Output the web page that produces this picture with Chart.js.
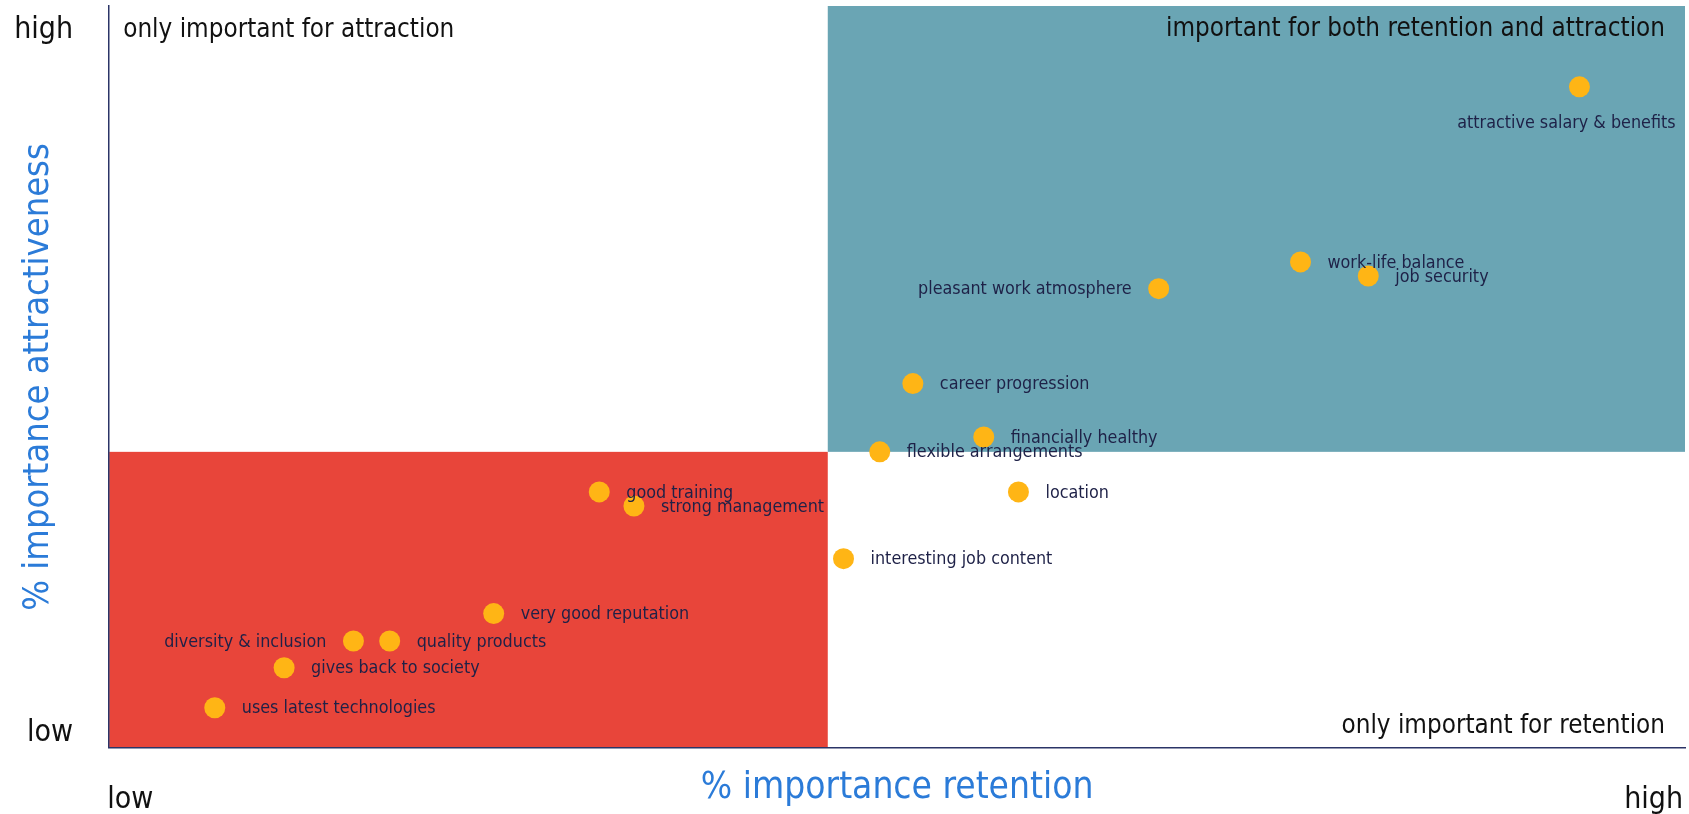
<!DOCTYPE html>
<html lang="en">
<head>
    <meta charset="UTF-8">
    <title>Retention vs Attraction</title>
    <script src="https://cdn.jsdelivr.net/npm/chart.js"></script>
    <style>
        body {
            margin: 0;
            background: #ffffff;
        }
        .chart-container {
            width: 1689px;
            height: 814px;
            position: relative;
        }
    </style>
</head>
<body>

    <div class="chart-container">
        <canvas id="matrixChart"></canvas>
    </div>

    <script>
        const FONT = "'DejaVu Sans Condensed', 'DejaVu Sans', sans-serif";

        // Employer factors, scored on retention (x) and attraction (y), 0-100
        const factors = [
            "attractive salary & benefits",
            "work-life balance",
            "job security",
            "pleasant work atmosphere",
            "career progression",
            "financially healthy",
            "flexible arrangements",
            "location",
            "interesting job content",
            "good training",
            "strong management",
            "very good reputation",
            "diversity & inclusion",
            "quality products",
            "gives back to society",
            "uses latest technologies"
        ];
        const retention  = [93.3, 75.6, 79.9, 66.6, 51.0, 55.5, 48.9, 57.7, 46.6, 31.1, 33.3, 24.4, 15.5, 17.8, 11.1, 6.7];
        const attraction = [89.1, 65.5, 63.6, 61.9, 49.1, 41.9, 39.9, 34.5, 25.5, 34.5, 32.6, 18.1, 14.4, 14.4, 10.8, 5.4];

        // where the quadrants split
        const retentionSplit = 45.6;
        const attractionSplit = 39.9;

        const quadrantNames = [
            "only important for attraction",
            "important for both retention and attraction",
            "only important for retention"
        ];
        const axisEnds = ["low", "high"];

        // labels that sit left of / below their dot
        const leftLabels = ["pleasant work atmosphere", "diversity & inclusion"];
        const belowLabels = ["attractive salary & benefits"];

        const points = factors.map((name, i) => ({ x: retention[i], y: attraction[i], label: name }));

        // coloured quadrant blocks behind everything
        const quadrantFill = {
            id: "quadrantFill",
            beforeDraw(chart) {
                const { ctx, scales: { x, y } } = chart;
                ctx.save();
                // low / low
                ctx.fillStyle = "#E8453A";
                ctx.fillRect(x.getPixelForValue(0), y.getPixelForValue(attractionSplit),
                    x.getPixelForValue(retentionSplit) - x.getPixelForValue(0),
                    y.getPixelForValue(0) - y.getPixelForValue(attractionSplit));
                // high / high
                ctx.fillStyle = "#6AA5B4";
                ctx.fillRect(x.getPixelForValue(retentionSplit), y.getPixelForValue(100),
                    x.getPixelForValue(100) - x.getPixelForValue(retentionSplit),
                    y.getPixelForValue(attractionSplit) - y.getPixelForValue(100));
                ctx.restore();
            }
        };

        // point names, quadrant captions and low/high ends
        const textLayer = {
            id: "textLayer",
            afterDatasetsDraw(chart) {
                const { ctx, chartArea: area } = chart;
                const meta = chart.getDatasetMeta(0);
                ctx.save();

                ctx.fillStyle = "#1E2147";
                ctx.font = "17.8px " + FONT;
                ctx.textBaseline = "middle";
                meta.data.forEach((pt, i) => {
                    const name = factors[i];
                    if (belowLabels.includes(name)) {
                        ctx.textAlign = "center";
                        ctx.fillText(name, pt.x - 13, pt.y + 37);
                    } else if (leftLabels.includes(name)) {
                        ctx.textAlign = "right";
                        ctx.fillText(name, pt.x - 27, pt.y + 1);
                    } else {
                        ctx.textAlign = "left";
                        ctx.fillText(name, pt.x + 27, pt.y + 1);
                    }
                });

                ctx.fillStyle = "#111111";
                ctx.textBaseline = "alphabetic";
                ctx.font = "25.8px " + FONT;
                ctx.textAlign = "left";
                ctx.fillText(quadrantNames[0], area.left + 14, 37);
                ctx.textAlign = "right";
                ctx.fillText(quadrantNames[1], area.right - 20, 36);
                ctx.fillText(quadrantNames[2], area.right - 20, 733);

                ctx.font = "30px " + FONT;
                ctx.textAlign = "right";
                ctx.fillText(axisEnds[1], 73, 38);
                ctx.fillText(axisEnds[0], 73, 741);
                ctx.textAlign = "left";
                ctx.fillText(axisEnds[0], area.left - 2, 808);
                ctx.textAlign = "right";
                ctx.fillText(axisEnds[1], area.right - 2, 808);
                ctx.restore();
            }
        };

        const ctx = document.getElementById("matrixChart").getContext("2d");
        new Chart(ctx, {
            type: "scatter",
            data: {
                datasets: [{
                    data: points,
                    pointRadius: 10.5,
                    pointHoverRadius: 10.5,
                    pointBackgroundColor: "#FFB515",
                    pointBorderWidth: 0
                }]
            },
            options: {
                responsive: true,
                maintainAspectRatio: false,
                animation: false,
                layout: {
                    autoPadding: false,
                    padding: { left: 10, top: 6, right: 4, bottom: 0 }
                },
                plugins: {
                    legend: { display: false },
                    tooltip: { enabled: false }
                },
                scales: {
                    x: {
                        min: 0,
                        max: 100,
                        grid: { display: false },
                        border: { display: true, color: "#2B3467", width: 1.5 },
                        ticks: { display: false },
                        title: {
                            display: true,
                            text: "% importance retention",
                            color: "#2B7BD8",
                            font: { family: FONT, size: 36.8 },
                            padding: { top: 11, bottom: 3 }
                        }
                    },
                    y: {
                        min: 0,
                        max: 100,
                        grid: { display: false },
                        border: { display: true, color: "#2B3467", width: 1.5 },
                        ticks: { display: false },
                        title: {
                            display: true,
                            text: "% importance attractiveness",
                            color: "#2B7BD8",
                            font: { family: FONT, size: 36 },
                            padding: { top: 7, bottom: 41 }
                        }
                    }
                }
            },
            plugins: [quadrantFill, textLayer]
        });
    </script>

</body>
</html>
